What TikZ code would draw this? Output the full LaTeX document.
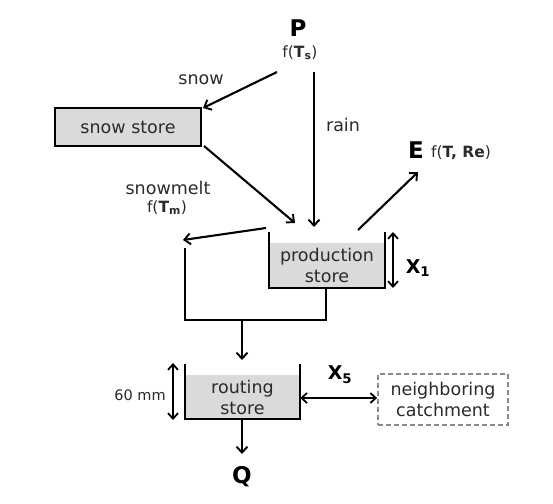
\documentclass[tikz,border=0pt]{standalone}
\usepackage{fontspec}
\setmainfont{DejaVu Sans}
\usetikzlibrary{arrows.meta,calc}
\definecolor{storegray}{HTML}{DADADA}
\definecolor{txt}{HTML}{2A2A2A}
\definecolor{dashgray}{HTML}{888888}
\begin{document}
\begin{tikzpicture}[x=1pt,y=-1pt,
  lbl/.style={text=txt,font=\fontsize{17.5}{21}\selectfont,inner sep=0pt,align=center},
  small/.style={text=txt,font=\fontsize{15.5}{18}\selectfont,inner sep=0pt},
  tiny/.style={text=txt,font=\fontsize{14.5}{17}\selectfont,inner sep=0pt},
  big/.style={font=\fontsize{23}{25}\selectfont\bfseries,inner sep=0pt},
  param/.style={font=\fontsize{19}{21}\selectfont\bfseries,inner sep=0pt},
  flow/.style={line width=2.1pt,-{Straight Barb[length=6pt,width=11pt,line width=1.9pt]}},
  both/.style={line width=2pt,{Straight Barb[length=5.5pt,width=10pt,line width=1.8pt]}-{Straight Barb[length=5.5pt,width=10pt,line width=1.8pt]}},
  pipe/.style={line width=2.1pt},
  storefill/.style={fill=storegray,inner sep=0pt,text=txt,font=\fontsize{17.5}{21}\selectfont,align=center},
  snowbox/.style={storefill,draw=black,line width=2.1pt,minimum width=146pt,minimum height=38pt},
  nbbox/.style={draw=dashgray,dash pattern=on 5pt off 3pt,line width=1.7pt,inner sep=0pt,text=txt,font=\fontsize{17.5}{21}\selectfont,align=center,minimum width=130pt,minimum height=51pt}
]
\useasboundingbox (0,0) rectangle (553,503);

% top labels
\node[big] (P) at (298,28) {P};
\node[small] (fTs) at (300,53) {f(\textbf{T}\textsubscript{\textbf{s}})};
\node[big] (E) at (416,150) {E};
\node[small,anchor=west] (fTRe) at (431,153) {f(\textbf{T, Re})};

% snow store
\node[snowbox] (snow) at (128,127) {snow store};

% production store
\node[storefill,minimum width=116pt,minimum height=45pt] (prod) at (327,265.5) {production\\store};
\coordinate (pTL) at (269,232);
\coordinate (pTR) at (385,232);
\coordinate (pBL) at (269,288);
\coordinate (pBR) at (385,288);
\coordinate (pB) at (326,288);
\draw[pipe] (pTL) -- (pBL) -- (pBR) -- (pTR);

% routing store
\node[storefill,minimum width=115pt,minimum height=44pt] (rout) at (242.5,397) {routing\\store};
\coordinate (rTL) at (185,364);
\coordinate (rTR) at (300,364);
\coordinate (rBL) at (185,419);
\coordinate (rBR) at (300,419);
\draw[pipe] (rTL) -- (rBL) -- (rBR) -- (rTR);

% neighboring catchment
\node[nbbox] (nb) at (443,399.5) {neighboring\\catchment};

% labels
\node[lbl] (snowl) at (201,80) {snow};
\node[lbl] (rainl) at (343,125) {rain};
\node[lbl] (meltl) at (168,188) {snowmelt};
\node[small] (fTm) at (167,208) {f(\textbf{T}\textsubscript{\textbf{m}})};
\node[param] (X1) at (418,268) {X\textsubscript{1}};
\node[param] (X5) at (340,375) {X\textsubscript{5}};
\node[tiny] (mm) at (140,395) {60 mm};
\node[big] (Q) at (242,477) {Q};

% flows
\coordinate (snowS) at (277,72);
\coordinate (snowE) at (203,108);
\draw[flow] (snowS) -- (snowE);
\coordinate (rainS) at (314,72);
\coordinate (rainE) at (314,227);
\draw[flow] (rainS) -- (rainE);
\coordinate (meltS) at (204,146);
\coordinate (meltE) at (295,223);
\draw[flow] (meltS) -- (meltE);
\coordinate (evS) at (358,230);
\coordinate (evE) at (418,172);
\draw[flow] (evS) -- (evE);
\coordinate (splitS) at (266,228);
\coordinate (splitE) at (183,240);
\draw[flow] (splitS) -- (splitE);

\coordinate (lineT) at (185,248);
\coordinate (lineB) at (185,320);
\coordinate (lineR) at (326,320);
\draw[pipe] (lineT) -- (lineB) -- (lineR) -- (pB);
\coordinate (joinS) at (242,320);
\coordinate (joinE) at (242,360);
\draw[flow] (joinS) -- (joinE);

\coordinate (qS) at (242,419);
\coordinate (qE) at (242,454);
\draw[flow] (qS) -- (qE);

% double arrows
\coordinate (x1T) at (393,232);
\coordinate (x1B) at (393,288);
\draw[both] (x1T) -- (x1B);
\coordinate (mmT) at (173,363);
\coordinate (mmB) at (173,420);
\draw[both] (mmT) -- (mmB);
\draw[both] (rout.east |- 0,398) -- (nb.west |- 0,398);
\end{tikzpicture}
\end{document}
